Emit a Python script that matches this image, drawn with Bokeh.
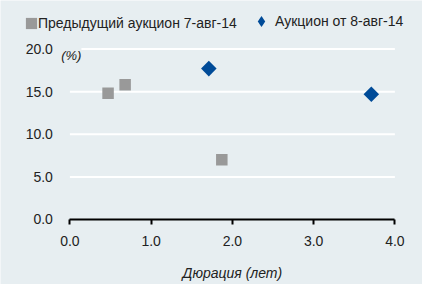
import math
from bokeh.plotting import figure
from bokeh.models import Range1d, Legend, LegendItem, Label, FixedTicker, CustomJSTickFormatter
from bokeh.embed import file_html
from bokeh.resources import INLINE

# Data
series_prev_name = "Предыдущий аукцион 7-авг-14"
series_new_name = "Аукцион от 8-авг-14"
prev_duration = [0.47, 0.68, 1.87]
prev_yield = [14.8, 15.8, 7.0]
new_duration = [1.71, 3.71]
new_yield = [17.7, 14.7]
x_ticks = [0, 1, 2, 3, 4]
y_ticks = [0, 5, 10, 15, 20]
grid_levels = [5, 10, 15, 20]
x_title = "Дюрация (лет)"
y_unit = "(%)"

BG = "#e7eef1"
GRAY = "#999999"
BLUE = "#004b98"
TXT = "#222222"
FONT = "Liberation Sans"

# the frame covers the whole figure; axes are pinned at x=0 / y=0
p = figure(width=422, height=284, output_backend="svg", toolbar_location=None,
           x_range=Range1d(-0.854, 4.34), y_range=Range1d(-7.625, 25.69),
           min_border_left=0, min_border_right=0, min_border_top=0, min_border_bottom=0)
p.background_fill_color = BG
p.border_fill_color = BG
p.outline_line_color = None
p.xgrid.grid_line_color = None
p.ygrid.grid_line_color = None

# horizontal white grid lines spanning the axis extent
p.segment(x0=[x_ticks[0]] * len(grid_levels), x1=[x_ticks[-1]] * len(grid_levels),
          y0=grid_levels, y1=grid_levels, line_color="white", line_width=2)

# legend-glyph renderers (tiny, hidden under the visible markers)
leg_sq = p.rect(prev_duration, prev_yield, width=0.01, height=0.1, color=GRAY, line_color=None)
leg_dm = p.scatter(new_duration, new_yield, marker="diamond", size=10, color=BLUE, line_color=None)

p.scatter(prev_duration, prev_yield, marker="square", size=11.5, color=GRAY, line_color=None)
p.scatter(new_duration, new_yield, marker="square", angle=math.pi / 4, size=11,
          color=BLUE, line_color=None)

fmt = CustomJSTickFormatter(code="return tick.toFixed(1)")

xa = p.xaxis[0]
xa.fixed_location = 0
xa.bounds = (x_ticks[0], x_ticks[-1])
xa.ticker = FixedTicker(ticks=x_ticks)
xa.formatter = fmt
xa.axis_line_color = "black"
xa.axis_line_width = 2
xa.major_tick_line_color = "black"
xa.major_tick_line_width = 2
xa.major_tick_in = 0
xa.major_tick_out = 5
xa.minor_tick_line_color = None
xa.major_label_standoff = 12
xa.major_label_text_font = FONT
xa.major_label_text_font_size = "14px"
xa.major_label_text_color = TXT

ya = p.yaxis[0]
ya.fixed_location = 0
ya.ticker = FixedTicker(ticks=y_ticks)
ya.formatter = fmt
ya.axis_line_color = None
ya.major_tick_line_color = None
ya.minor_tick_line_color = None
ya.major_tick_in = 0
ya.major_tick_out = 0
ya.major_label_standoff = 17
ya.major_label_text_font = FONT
ya.major_label_text_font_size = "14px"
ya.major_label_text_color = TXT

# x-axis title, centred under the axis extent
title = Label(x=(x_ticks[0] + x_ticks[-1]) / 2, y=-6.29, text=x_title, text_align="center",
              text_baseline="middle", text_font=FONT, text_font_style="italic",
              text_font_size="14px", text_color=TXT)
p.add_layout(title)

unit = Label(x=-0.107, y=20, text=y_unit, text_align="left", text_baseline="top", y_offset=1,
             text_font=FONT, text_font_style="italic", text_font_size="13px",
             text_color=TXT, background_fill_color=BG)
p.add_layout(unit)

common = dict(orientation="horizontal", padding=0, margin=0, border_line_color=None,
              background_fill_alpha=0, label_text_font=FONT, label_text_font_size="14px",
              label_text_color=TXT, label_standoff=0, spacing=0)
legend1 = Legend(items=[LegendItem(label=series_prev_name, renderers=[leg_sq])],
                 location=(24, 253), glyph_width=14, glyph_height=14, **common)
legend2 = Legend(items=[LegendItem(label=series_new_name, renderers=[leg_dm])],
                 location=(247, 249), glyph_width=28, glyph_height=28, **common)
p.add_layout(legend1)
p.add_layout(legend2)

open("out.html", "w").write(file_html(p, INLINE))
